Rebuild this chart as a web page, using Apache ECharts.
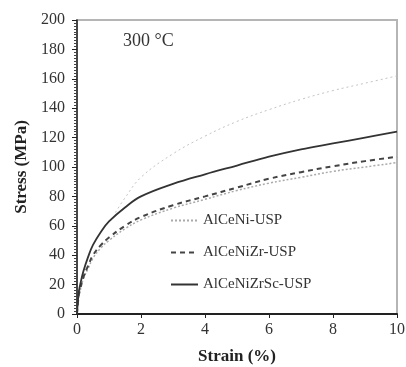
<!DOCTYPE html>
<html><head><meta charset="utf-8">
<script src="https://cdn.jsdelivr.net/npm/echarts@6/dist/echarts.min.js"></script>
<style>html,body{margin:0;padding:0;background:#fff}#c{width:406px;height:367px}</style>
</head><body><div id="c"></div>
<script>
var strain = [0, 0.05, 0.1, 0.2, 0.35, 0.5, 0.75, 1, 1.5, 2, 3, 4, 5, 6, 7, 8, 9, 10];
var alCeNi = [0, 11, 16, 24, 31, 38, 45, 50, 58, 64, 72, 78, 84, 89, 93, 97, 100, 103];
var alCeNiZr = [0, 12, 17, 25, 33, 40, 47, 52, 60, 66, 74, 80, 86, 92, 96.5, 100.5, 104, 107];
var alCeNiZrSc = [0, 14, 20, 29, 39, 47, 56, 63, 72.5, 80, 88.5, 95, 101, 107, 112, 116, 120, 124];
var upperStrain = [1.2, 1.5, 2, 3, 4, 5, 6, 7, 8, 9, 10];
var upperStress = [69, 79, 93, 109, 121, 131, 139, 146, 152, 157, 162];
var seriesNames = ['AlCeNi-USP', 'AlCeNiZr-USP', 'AlCeNiZrSc-USP'];
var xTicks = [0, 2, 4, 6, 8, 10];
var yTicks = [0, 20, 40, 60, 80, 100, 120, 140, 160, 180, 200];
var tempLabel = '300 °C';

function pairs(xs, ys){ return xs.map(function(x,i){ return [x, ys[i]]; }); }
var font = '"Liberation Serif", "DejaVu Serif", serif';
var chart = echarts.init(document.getElementById('c'));
chart.setOption({
  animation: false,
  backgroundColor: '#fff',
  grid: { left: 77, right: 9, top: 20, bottom: 53, show: true, borderColor: '#b5b5b5', borderWidth: 2,
          containLabel: false, outerBoundsMode: 'none' },
  xAxis: {
    type: 'value', min: xTicks[0], max: xTicks[xTicks.length-1], interval: 2,
    name: 'Strain (%)', nameLocation: 'middle', nameGap: 34,
    nameTextStyle: { fontFamily: font, fontWeight: 'bold', fontSize: 17, color: '#222' },
    axisLine: { show: true, onZero: false, lineStyle: { color: '#222', width: 2 } },
    axisTick: { show: true, inside: false, length: 4, lineStyle: { color: '#222' } },
    axisLabel: { fontFamily: font, fontSize: 16, color: '#333', margin: 8 },
    splitLine: { show: false }
  },
  yAxis: {
    type: 'value', min: yTicks[0], max: yTicks[yTicks.length-1], interval: 20,
    name: 'Stress (MPa)', nameLocation: 'middle', nameGap: 47,
    nameTextStyle: { fontFamily: font, fontWeight: 'bold', fontSize: 17, color: '#222' },
    axisLine: { show: true, onZero: false, lineStyle: { color: '#222', width: 1.5 } },
    axisTick: { show: true, inside: false, length: 5, lineStyle: { color: '#222' } },
    minorTick: { show: true, splitNumber: 10, length: 3, lineStyle: { color: '#444' } },
    axisLabel: { fontFamily: font, fontSize: 16, color: '#333', margin: 12 },
    splitLine: { show: false }
  },
  legend: {
    orient: 'vertical', left: 165, top: 208, itemGap: 17, itemWidth: 27, itemHeight: 14,
    data: seriesNames,
    itemStyle: { opacity: 0 },
    textStyle: { fontFamily: font, fontSize: 15, color: '#333' }
  },
  graphic: [{
    type: 'text', left: 123, top: 32,
    style: { text: tempLabel, font: '18px ' + font, fill: '#333' }
  }],
  series: [
    { name: seriesNames[0], type: 'line', smooth: 0.4, symbol: 'none', data: pairs(strain, alCeNi),
      lineStyle: { color: '#aaa', width: 1.5, type: [2, 2] }, itemStyle: { color: '#aaa' } },
    { name: seriesNames[1], type: 'line', smooth: 0.4, symbol: 'none', data: pairs(strain, alCeNiZr),
      lineStyle: { color: '#444', width: 2, type: [5, 4] }, itemStyle: { color: '#444' } },
    { name: seriesNames[2], type: 'line', smooth: 0.4, symbol: 'none', data: pairs(strain, alCeNiZrSc),
      lineStyle: { color: '#333', width: 1.8, type: 'solid' }, itemStyle: { color: '#333' } },
    { name: 'upper', type: 'line', smooth: 0.4, symbol: 'none', data: pairs(upperStrain, upperStress),
      lineStyle: { color: '#c4c4c4', width: 1, type: [2, 3] }, itemStyle: { color: '#c4c4c4' } }
  ]
});
</script></body></html>
